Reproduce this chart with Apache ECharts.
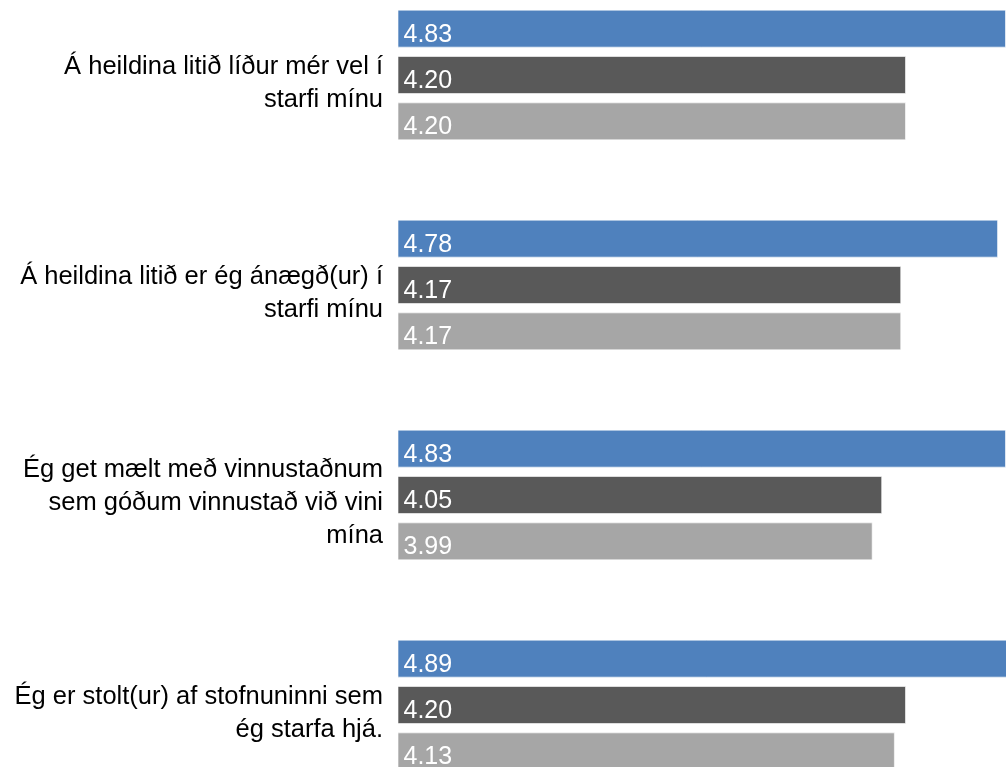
<!DOCTYPE html>
<html>
<head>
<meta charset="utf-8">
<script src="https://cdn.jsdelivr.net/npm/echarts@6/dist/echarts.min.js"></script>
<style>
  html, body { margin: 0; padding: 0; background: #fff; overflow: hidden; }
  body { width: 1006px; height: 767px; position: relative; }
  /* myndin er skorin: ásinn nær út fyrir hægri og neðri brún */
  #chart { position: absolute; left: 0; top: -30px; width: 1033px; height: 848px; }
</style>
</head>
<body>
<div id="chart"></div>
<script>
// spurningar (flokkar), efst fyrst
var categories = [
  "Á heildina litið líður mér vel í\nstarfi mínu",
  "Á heildina litið er ég ánægð(ur) í\nstarfi mínu",
  "Ég get mælt með vinnustaðnum\nsem góðum vinnustað við vini\nmína",
  "Ég er stolt(ur) af stofnuninni sem\nég starfa hjá."
];

// þrjár raðir
var seriesBlue = [4.83, 4.78, 4.83, 4.89];
var seriesDark = [4.20, 4.17, 4.05, 4.20];
var seriesLight = [4.20, 4.17, 3.99, 4.13];

var colors = ["#4F81BD", "#595959", "#A6A6A6"];

function makeSeries(name, data, color) {
  return {
    name: name,
    type: "bar",
    data: data,
    barWidth: 38,
    barGap: "22%",
    itemStyle: { color: color, borderColor: "rgba(255,255,255,0.6)", borderWidth: 1 },
    label: {
      show: true,
      position: "insideLeft",
      distance: 6,
      offset: [0, 6],
      color: "#fff",
      fontFamily: "Liberation Sans, Arial, sans-serif",
      fontSize: 25,
      formatter: function (p) { return p.value.toFixed(2); }
    }
  };
}

var chart = echarts.init(document.getElementById("chart"));
chart.setOption({
  animation: false,
  backgroundColor: "#ffffff",
  // grid 0: súlur, grid 1: textar (aðeins neðar)
  grid: [
    { left: 398, right: 0, top: 0, bottom: 8 },
    { left: 398, right: 0, top: 8, bottom: 0 }
  ],
  xAxis: [
    { type: "value", min: 1, max: 5, show: false, gridIndex: 0 },
    { type: "value", min: 1, max: 5, show: false, gridIndex: 1 }
  ],
  yAxis: [
    {
      type: "category",
      inverse: true,
      data: categories,
      gridIndex: 0,
      axisLine: { show: false },
      axisTick: { show: false },
      axisLabel: { show: false }
    },
    {
      type: "category",
      inverse: true,
      data: categories,
      gridIndex: 1,
      axisLine: { show: false },
      axisTick: { show: false },
      axisLabel: {
        margin: 15,
        align: "right",
        color: "#000",
        fontFamily: "Liberation Sans, Arial, sans-serif",
        fontSize: 25.5,
        lineHeight: 33
      }
    }
  ],
  series: [
    makeSeries("a", seriesBlue, colors[0]),
    makeSeries("b", seriesDark, colors[1]),
    makeSeries("c", seriesLight, colors[2])
  ]
});
</script>
</body>
</html>
